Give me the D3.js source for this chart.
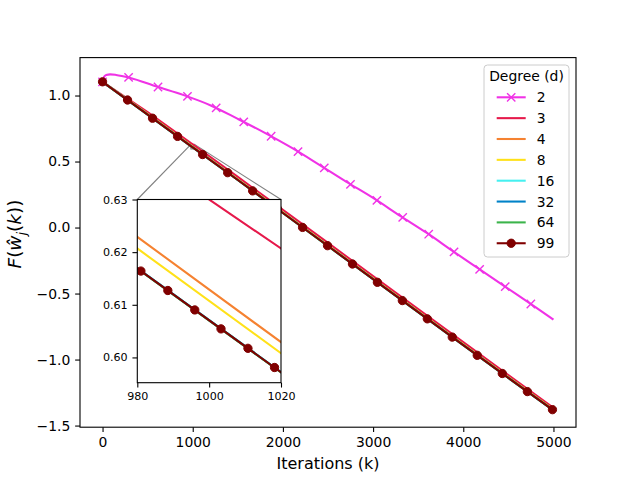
<!DOCTYPE html>
<html>
<head>
<meta charset="utf-8">
<script src="https://cdn.jsdelivr.net/npm/d3@7"></script>
<style>
  body { margin: 0; background: #fff; }
  svg { font-family: "DejaVu Sans", sans-serif; }
</style>
</head>
<body>
<svg id="chart" width="640" height="480"></svg>
<script>
var iters = [0, 500, 980, 1020, 1500, 2000, 2500, 3000, 3500, 4000, 4500, 5000];
var d3v  = [1.104, 0.874, 0.6393, 0.6207, 0.3835, 0.1335, -0.1165, -0.3675, -0.6175, -0.8675, -1.117, -1.366];
var d4v  = [1.104, 0.8605, 0.6229, 0.6029, 0.3658, 0.1158, -0.1342, -0.3852, -0.6352, -0.8852, -1.1335, -1.3795];
var d8v  = [1.104, 0.8585, 0.6207, 0.6008, 0.3636, 0.1136, -0.1364, -0.3874, -0.6374, -0.8874, -1.1355, -1.3815];
var d16v = [1.104, 0.8551, 0.61695, 0.59725, 0.3601, 0.1101, -0.1399, -0.3909, -0.6409, -0.8909, -1.1389, -1.3849];
var d32v = [1.104, 0.8550, 0.61690, 0.59720, 0.3600, 0.1100, -0.1400, -0.3910, -0.6410, -0.8910, -1.1390, -1.3850];
var d64v = [1.104, 0.8549, 0.61685, 0.59715, 0.3599, 0.1099, -0.1401, -0.3911, -0.6411, -0.8911, -1.1391, -1.3851];
var d99v = [1.104, 0.855, 0.6169, 0.5972, 0.360, 0.110, -0.140, -0.391, -0.641, -0.891, -1.139, -1.385];

// degree 2 curve
var pinkIters = [0, 15, 40, 85, 150, 300, 600, 900, 1200, 1500, 1800, 2100, 2400, 2700, 3000, 3300, 3600, 3900, 4200, 4500, 4800, 5000];
var pinkVals  = [1.104, 1.140, 1.156, 1.160, 1.156, 1.135, 1.068, 1.003, 0.925, 0.823, 0.717, 0.603, 0.477, 0.348, 0.224, 0.089, -0.043, -0.186, -0.325, -0.464, -0.603, -0.698];

var degrees = ["2", "3", "4", "8", "16", "32", "64", "99"];
var colors  = ["#f032e6", "#e6194b", "#f58231", "#ffe119", "#46f0f0", "#0082c8", "#3cb44b", "#800000"];
var markers = ["x", null, null, null, null, null, null, "o"];

var xTicks = [0, 1000, 2000, 3000, 4000, 5000];
var yTicks = [-1.5, -1.0, -0.5, 0.0, 0.5, 1.0];
var insetXTicks = [980, 1000, 1020];
var insetYTicks = [0.60, 0.61, 0.62, 0.63];
var insetXDomain = [980, 1020];
var insetYDomain = [0.5952, 0.63];
// marker positions of the 99 curve inside the zoom
var insetMarks = [981, 988.5, 996, 1003.3, 1010.8, 1018.2];

var seriesVals = [pinkVals, d3v, d4v, d8v, d16v, d32v, d64v, d99v];
var series = degrees.map(function(d, i) {
    var xs = i == 0 ? pinkIters : iters;
    return {
        name: d, color: colors[i], marker: markers[i],
        curve: i == 0 ? d3.curveMonotoneX : d3.curveLinear,
        points: xs.map(function(k, j) { return [k, seriesVals[i][j]]; })
    };
});

var svg = d3.select("#chart");
var margin = {left: 80, top: 57.6, right: 64, bottom: 52.8};
var width = 640 - margin.left - margin.right,
    height = 480 - margin.top - margin.bottom;

function padded(ext) {
    var p = (ext[1] - ext[0]) * 0.05;
    return [ext[0] - p, ext[1] + p];
}
var allPts = [].concat.apply([], series.map(function(s) { return s.points; }));
var x = d3.scaleLinear()
    .domain(padded(d3.extent(allPts, function(p) { return p[0]; })))
    .range([0, width]);
var y = d3.scaleLinear()
    .domain(padded(d3.extent(allPts, function(p) { return p[1]; })))
    .range([height, 0]);

var g = svg.append("g")
    .attr("transform", "translate(" + margin.left + "," + margin.top + ")");

var tickLen = 4.86;

function styleAxis(sel, fs) {
    sel.select(".domain").remove();
    sel.selectAll(".tick line").attr("stroke", "#000").attr("stroke-width", 1.1);
    sel.selectAll(".tick text").attr("fill", "#000")
        .style("font-family", "DejaVu Sans").style("font-size", fs + "px");
}

g.append("g")
    .attr("transform", "translate(0," + height + ")")
    .call(d3.axisBottom(x).tickValues(xTicks).tickFormat(d3.format("d"))
        .tickSize(tickLen).tickPadding(4.86))
    .call(styleAxis, 13.9);

g.append("g")
    .call(d3.axisLeft(y).tickValues(yTicks).tickFormat(d3.format(".1f"))
        .tickSize(tickLen).tickPadding(4.86))
    .call(styleAxis, 13.9);

// zoom marker rectangle and connectors (under the lines)
var inset = {left: 137.3, top: 199.5, width: 143.7, height: 183.2};
var rx0 = x(insetXDomain[0]), rx1 = x(insetXDomain[1]),
    ry0 = y(insetYDomain[1]), ry1 = y(insetYDomain[0]);
g.append("rect")
    .attr("x", rx0).attr("y", ry0)
    .attr("width", rx1 - rx0).attr("height", ry1 - ry0)
    .attr("fill", "none").attr("stroke", "#808080").attr("stroke-width", 1.1);
var iL = inset.left - margin.left, iT = inset.top - margin.top;
g.append("line")
    .attr("x1", rx0).attr("y1", ry0).attr("x2", iL).attr("y2", iT)
    .attr("stroke", "#808080").attr("stroke-width", 1.1);
g.append("line")
    .attr("x1", rx1).attr("y1", ry0).attr("x2", iL + inset.width).attr("y2", iT)
    .attr("stroke", "#808080").attr("stroke-width", 1.1);

function drawMarker(sel, type, color, px, py) {
    if (type == "o") {
        sel.append("circle").attr("cx", px).attr("cy", py).attr("r", 4.15)
            .attr("fill", color).attr("stroke", color).attr("stroke-width", 1);
    } else if (type == "x") {
        var r = 4.15;
        sel.append("path")
            .attr("d", "M" + (px - r) + "," + (py - r) + "L" + (px + r) + "," + (py + r) +
                       "M" + (px - r) + "," + (py + r) + "L" + (px + r) + "," + (py - r))
            .attr("stroke", color).attr("stroke-width", 1.4).attr("fill", "none");
    }
}

// main lines, markers evenly spaced along the drawn path
var diag = Math.sqrt(width * width + height * height);
var every = 0.05 * diag;
series.forEach(function(s) {
    var line = d3.line().curve(s.curve)
        .x(function(p) { return x(p[0]); })
        .y(function(p) { return y(p[1]); });
    var path = g.append("path")
        .attr("d", line(s.points))
        .attr("fill", "none")
        .attr("stroke", s.color)
        .attr("stroke-width", 2.08)
        .attr("stroke-linejoin", "round")
        .attr("stroke-linecap", "butt");
    if (s.marker) {
        var node = path.node();
        var total = node.getTotalLength();
        for (var l = 0; l <= total + 0.5; l += every) {
            var pt = node.getPointAtLength(Math.min(l, total));
            drawMarker(g, s.marker, s.color, pt.x, pt.y);
        }
    }
});

// spines
g.append("rect")
    .attr("width", width).attr("height", height)
    .attr("fill", "none").attr("stroke", "#000").attr("stroke-width", 1.1);

// labels
g.append("text")
    .attr("x", width / 2).attr("y", 463.3 - margin.top + 6)
    .attr("text-anchor", "middle")
    .style("font-size", "16px")
    .text("Iterations (k)");

var yl = svg.append("text")
    .attr("transform", "translate(21,234) rotate(-90)")
    .attr("text-anchor", "middle")
    .style("font-size", "18.5px");
yl.append("tspan").attr("font-style", "italic").text("F");
yl.append("tspan").text("(");
yl.append("tspan").attr("font-style", "italic").text("\u0175");
yl.append("tspan").attr("font-style", "italic").attr("dy", 4.5).style("font-size", "13px").text("j");
yl.append("tspan").attr("dy", -4.5).text("(");
yl.append("tspan").attr("font-style", "italic").text("k");
yl.append("tspan").text("))");

// legend
var leg = svg.append("g");
leg.append("rect")
    .attr("x", 484).attr("y", 65).attr("width", 85).attr("height", 192)
    .attr("rx", 3.5).attr("ry", 3.5)
    .attr("fill", "#fff").attr("fill-opacity", 0.8)
    .attr("stroke", "#cccccc").attr("stroke-width", 1);
leg.append("text")
    .attr("x", 526.5).attr("y", 81)
    .attr("text-anchor", "middle")
    .style("font-size", "13.9px")
    .text("Degree (d)");
series.forEach(function(s, i) {
    var ly = 97.3 + i * 20.85;
    leg.append("line")
        .attr("x1", 496.7).attr("x2", 525.7).attr("y1", ly).attr("y2", ly)
        .attr("stroke", s.color).attr("stroke-width", 2.08);
    if (s.marker) drawMarker(leg, s.marker, s.color, 511.2, ly);
    leg.append("text")
        .attr("x", 536.7).attr("y", ly + 5)
        .style("font-size", "13.9px")
        .text(s.name);
});

// inset axes
var ig = svg.append("g")
    .attr("transform", "translate(" + inset.left + "," + inset.top + ")");
var ix = d3.scaleLinear().domain(insetXDomain).range([0, inset.width]);
var iy = d3.scaleLinear().domain(insetYDomain).range([inset.height, 0]);

ig.append("rect")
    .attr("width", inset.width).attr("height", inset.height)
    .attr("fill", "#fff");
svg.append("clipPath").attr("id", "insetClip")
    .append("rect").attr("width", inset.width).attr("height", inset.height);

var lines = ig.append("g").attr("clip-path", "url(#insetClip)");
series.forEach(function(s) {
    var line = d3.line().curve(s.curve)
        .x(function(p) { return ix(p[0]); })
        .y(function(p) { return iy(p[1]); });
    lines.append("path")
        .attr("d", line(s.points))
        .attr("fill", "none")
        .attr("stroke", s.color)
        .attr("stroke-width", 2.08);
    if (s.marker == "o") {
        var f = d3.scaleLinear().domain(iters).range(d99v);
        insetMarks.forEach(function(k) {
            drawMarker(lines, "o", s.color, ix(k), iy(f(k)));
        });
    }
});

ig.append("g")
    .attr("transform", "translate(0," + inset.height + ")")
    .call(d3.axisBottom(ix).tickValues(insetXTicks).tickFormat(d3.format("d"))
        .tickSize(tickLen).tickPadding(4.86))
    .call(styleAxis, 11.1);
ig.append("g")
    .call(d3.axisLeft(iy).tickValues(insetYTicks).tickFormat(d3.format(".2f"))
        .tickSize(tickLen).tickPadding(4.86))
    .call(styleAxis, 11.1);
ig.append("rect")
    .attr("width", inset.width).attr("height", inset.height)
    .attr("fill", "none").attr("stroke", "#000").attr("stroke-width", 1.1);
</script>
</body>
</html>
